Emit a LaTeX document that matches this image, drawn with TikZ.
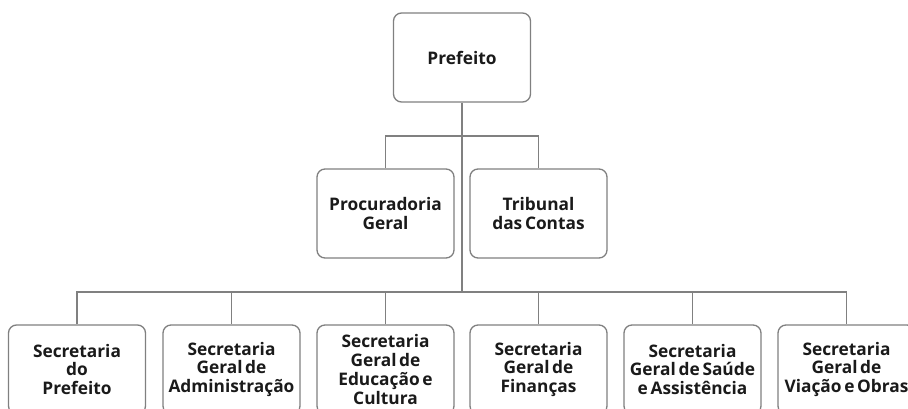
\documentclass[tikz,border=0pt]{standalone}
\usepackage{fontspec}
\setmainfont{Open Sans}[WordSpace=0.6]
\definecolor{linegray}{HTML}{808080}
\definecolor{txt}{HTML}{1A1A1A}
\begin{document}
\begin{tikzpicture}[x=1pt,y=-1pt,
  orgbox/.style={draw=linegray, line width=1.3pt, rounded corners=8pt, fill=white,
    minimum width=137pt, minimum height=89pt, inner sep=0pt,
    align=center, text=txt, font=\bfseries\fontsize{17.3}{18.7}\selectfont},
  conn/.style={draw=linegray, line width=1.3pt}]
\useasboundingbox (0,0) rectangle (908,409);
\clip (0,0) rectangle (908,409);
\node[orgbox] (pref) at (462,57.5) {Prefeito};
\node[orgbox] (proc) at (385.5,213.5) {Procuradoria\\Geral};
\node[orgbox] (trib) at (538.5,213.5) {Tribunal\\das Contas};
\node[orgbox] (s1) at (77,369.5) {Secretaria\\do\\Prefeito};
\node[orgbox] (s2) at (231.5,369.5) {Secretaria\\Geral de\\Administração};
\node[orgbox] (s3) at (385.5,369.5) {Secretaria\\Geral de\\Educação e\\Cultura};
\node[orgbox] (s4) at (538.5,369.5) {Secretaria\\Geral de\\Finanças};
\node[orgbox] (s5) at (692.5,369.5) {Secretaria\\Geral de Saúde\\e Assistência};
\node[orgbox] (s6) at (846.5,369.5) {Secretaria\\Geral de\\Viação e Obras};
\coordinate (j1) at (462,136);
\coordinate (j2) at (462,292);
\path[conn] (pref.south) -- (j2);
\path[conn] (proc.north) |- (j1) -| (trib.north);
\path[conn] (s1.north) |- (j2) -| (s6.north);
\path[conn] (s2.north) -- (s2.north |- j2);
\path[conn] (s3.north) -- (s3.north |- j2);
\path[conn] (s4.north) -- (s4.north |- j2);
\path[conn] (s5.north) -- (s5.north |- j2);
\end{tikzpicture}
\end{document}
